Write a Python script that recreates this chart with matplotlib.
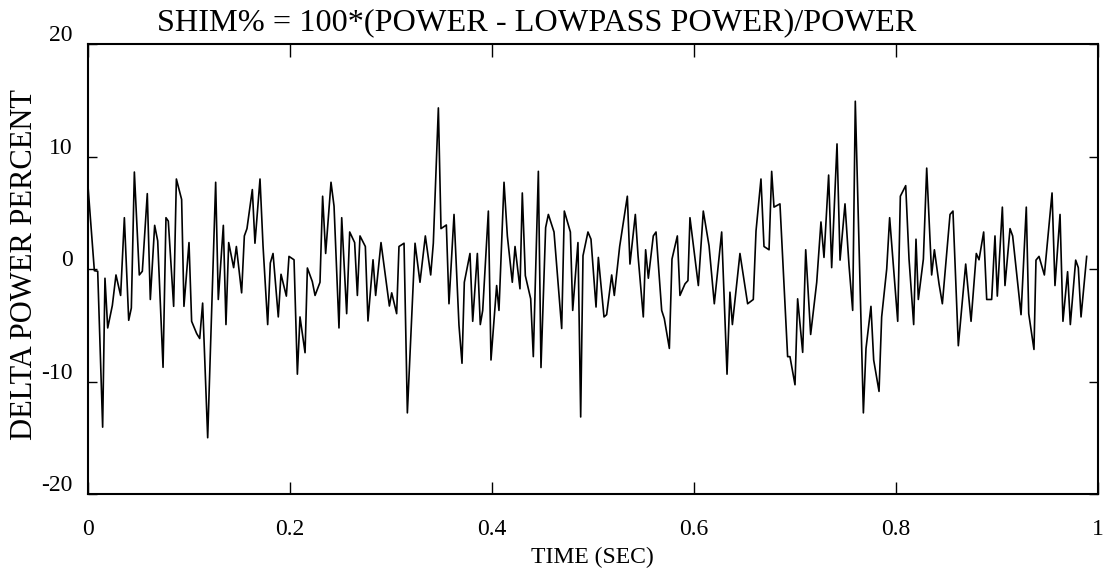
import matplotlib
matplotlib.use("Agg")
import matplotlib.pyplot as plt
import matplotlib.transforms as mtransforms
import numpy as np

# sample times (sec) and shimmer values (%)
time_sec = [
    0.000, 0.0063, 0.0096, 0.0145, 0.0168, 0.0195, 0.0241, 0.0277, 0.0323, 0.0360,
    0.0403, 0.0429, 0.0459, 0.0508, 0.0538, 0.0587, 0.0617, 0.0660, 0.0690, 0.0743,
    0.0772, 0.0795, 0.0848, 0.0875, 0.0927, 0.0950, 0.1000,
    0.1026, 0.1076, 0.1106, 0.1135, 0.1185, 0.1264, 0.1290, 0.1340, 0.1366, 0.1393,
    0.1442, 0.1469, 0.1521, 0.1548, 0.1574, 0.1627, 0.1653, 0.1703, 0.1733, 0.1779,
    0.1805, 0.1832, 0.1884, 0.1911, 0.1964, 0.1990,
    0.2040, 0.2073, 0.2099, 0.2149, 0.2172, 0.2221, 0.2248, 0.2297, 0.2323, 0.2353,
    0.2406, 0.2436, 0.2485, 0.2512, 0.2561, 0.2591, 0.2640, 0.2667, 0.2693, 0.2746,
    0.2772, 0.2822, 0.2848, 0.2901, 0.2984,
    0.3007, 0.3056, 0.3079, 0.3129, 0.3162, 0.3238, 0.3287, 0.3340, 0.3393, 0.3419,
    0.3469, 0.3495, 0.3548, 0.3574, 0.3624, 0.3673, 0.3703, 0.3726, 0.3782, 0.3809,
    0.3855, 0.3884, 0.3908, 0.3964,
    0.3990, 0.4046, 0.4069, 0.4119, 0.4152, 0.4201, 0.4228, 0.4277, 0.4300, 0.4330,
    0.4383, 0.4409, 0.4459, 0.4485, 0.4531, 0.4558, 0.4614, 0.4690, 0.4716, 0.4776,
    0.4799, 0.4851, 0.4878, 0.4901, 0.4950,
    0.4980, 0.5030, 0.5053, 0.5109, 0.5135, 0.5185, 0.5211, 0.5264, 0.5340, 0.5366,
    0.5419, 0.5446, 0.5498, 0.5521, 0.5548, 0.5597, 0.5624, 0.5680, 0.5706, 0.5756,
    0.5782, 0.5835, 0.5861, 0.5911, 0.5940, 0.5960,
    0.6043, 0.6092, 0.6149, 0.6201, 0.6274, 0.6327, 0.6356, 0.6380, 0.6455, 0.6531,
    0.6587, 0.6614, 0.6663, 0.6693, 0.6743, 0.6769, 0.6792, 0.6851, 0.6927,
    0.6950, 0.7000, 0.7026, 0.7076, 0.7106, 0.7155, 0.7215, 0.7257, 0.7287, 0.7333,
    0.7363, 0.7416, 0.7446, 0.7495, 0.7535, 0.7571, 0.7597, 0.7677, 0.7703, 0.7752,
    0.7779, 0.7832, 0.7858, 0.7908,
    0.7937, 0.8017, 0.8043, 0.8096, 0.8129, 0.8175, 0.8198, 0.8221, 0.8271, 0.8304,
    0.8353, 0.8380, 0.8426, 0.8459, 0.8535, 0.8564, 0.8617, 0.8690, 0.8743, 0.8795,
    0.8822, 0.8868, 0.8898,
    0.8947, 0.8980, 0.9003, 0.9053, 0.9079, 0.9129, 0.9155, 0.9238, 0.9290, 0.9314,
    0.9366, 0.9386, 0.9416, 0.9469, 0.9545, 0.9574, 0.9624, 0.9653, 0.9699, 0.9726,
    0.9779, 0.9805, 0.9832, 0.9888,
]
shim_pct = [
    7.35, -0.15, -0.20, -14.06, -0.82, -5.24, -3.24, -0.53, -2.35, 4.56,
    -4.56, -3.47, 8.62, -0.53, -0.20, 6.70, -2.71, 3.88, 2.50, -8.74,
    4.56, 4.26, -3.32, 8.00, 6.18, -3.32, 2.35,
    -4.65, -5.74, -6.18, -3.03, -15.00, 7.71, -2.71, 3.88, -4.94, 2.35,
    0.12, 2.00, -2.12, 2.94, 3.59, 7.06, 2.29, 8.00, 2.06, -4.94,
    0.53, 1.38, -4.26, -0.47, -2.41, 1.12,
    0.82, -9.35, -4.26, -7.44, 0.09, -1.12, -2.35, -1.18, 6.47, 1.38,
    7.71, 5.59, -5.24, 4.56, -3.97, 3.29, 2.35, -2.35, 2.94, 2.00,
    -4.62, 0.82, -2.35, 2.35, -3.29,
    -2.12, -3.97, 2.00, 2.29, -12.79, 2.29, -1.18, 2.94, -0.53, 2.29,
    14.32, 3.59, 3.91, -3.09, 4.85, -5.00, -8.38, -1.18, 1.38, -4.65,
    1.38, -4.94, -3.68, 5.15,
    -8.09, -1.47, -3.68, 7.71, 2.94, -1.18, 2.00, -1.76, 6.76, -0.59,
    -2.65, -7.79, 8.68, -8.76, 3.68, 4.85, 3.29, -5.29, 5.15, 3.29,
    -3.68, 2.35, -13.15, 1.18, 3.29,
    2.65, -3.38, 1.03, -4.26, -4.06, -0.53, -2.35, 2.00, 6.47, 0.44,
    4.85, 1.18, -4.26, 1.71, -0.82, 2.94, 3.29, -3.68, -4.41, -7.06,
    0.88, 2.94, -2.35, -1.32, -1.03, 4.56,
    -1.47, 5.15, 2.06, -3.09, 3.29, -9.35, -2.06, -4.94, 1.38, -3.09,
    -2.71, 3.38, 8.00, 2.00, 1.71, 8.68, 5.50, 5.79, -7.79,
    -7.79, -10.29, -2.65, -7.41, 1.71, -5.82, -1.18, 4.18, 1.03, 8.35,
    0.12, 11.12, 0.79, 5.79, 0.29, -3.68, 14.91, -12.79, -7.06, -3.32,
    -8.09, -10.88, -4.26, 0.00,
    4.56, -4.65, 6.47, 7.41, 0.88, -4.94, 2.65, -2.71, 0.88, 8.97,
    -0.53, 1.71, -1.32, -3.09, 4.85, 5.15, -6.82, 0.44, -4.65, 1.38,
    0.82, 3.29, -2.71,
    -2.71, 2.94, -2.41, 5.50, -1.47, 3.59, 2.94, -4.06, 5.50, -3.97,
    -7.15, 0.79, 1.12, -0.53, 6.76, -1.47, 4.85, -4.65, -0.24, -4.94,
    0.79, 0.12, -4.26, 1.12,
]

x_ticks = [0, 0.2, 0.4, 0.6, 0.8, 1]
x_tick_labels = ["0", "0.2", "0.4", "0.6", "0.8", "1"]
y_ticks = [-20, -10, 0, 10, 20]
y_tick_labels = ["-20", "-10", "0", "10", "20"]

plt.rcParams["font.family"] = ["Liberation Serif", "DejaVu Serif"]

fig = plt.figure(figsize=(11.05, 5.70), dpi=100)
ax = fig.add_axes([88 / 1105, 1 - 494 / 570, (1098 - 88) / 1105, (494 - 44) / 570])

ax.plot(time_sec, shim_pct, color="black", linewidth=1.2)

ax.set_xlim(0, 1)
ax.set_ylim(-20, 20)
ax.set_xticks(x_ticks)
ax.set_xticklabels(x_tick_labels)
ax.set_yticks(y_ticks)
ax.set_yticklabels(y_tick_labels)

ax.tick_params(axis="x", direction="in", length=9, width=1.0, top=True,
               labelsize=17, pad=18, colors="black")
ax.tick_params(axis="y", direction="in", length=6.5, width=1.0, right=True,
               labelsize=17, pad=11, colors="black")
# y labels sit a little above their tick
lift = mtransforms.ScaledTranslation(0, 2 / 72, fig.dpi_scale_trans)
for lbl in ax.get_yticklabels():
    lbl.set_verticalalignment("baseline")
    lbl.set_transform(lbl.get_transform() + lift)
for spine in ax.spines.values():
    spine.set_linewidth(1.5)
    spine.set_color("black")

fig.text(537 / 1105, 1 - 23 / 570, "SHIM% = 100*(POWER - LOWPASS POWER)/POWER",
         ha="center", va="center", fontsize=23.2)
fig.text(592 / 1105, 1 - 557 / 570, "TIME (SEC)", ha="center", va="center", fontsize=17)
fig.text(25 / 1105, 1 - 265 / 570, "DELTA POWER PERCENT", ha="center", va="center",
         rotation=90, fontsize=22)

fig.savefig("out.png", dpi=100)
